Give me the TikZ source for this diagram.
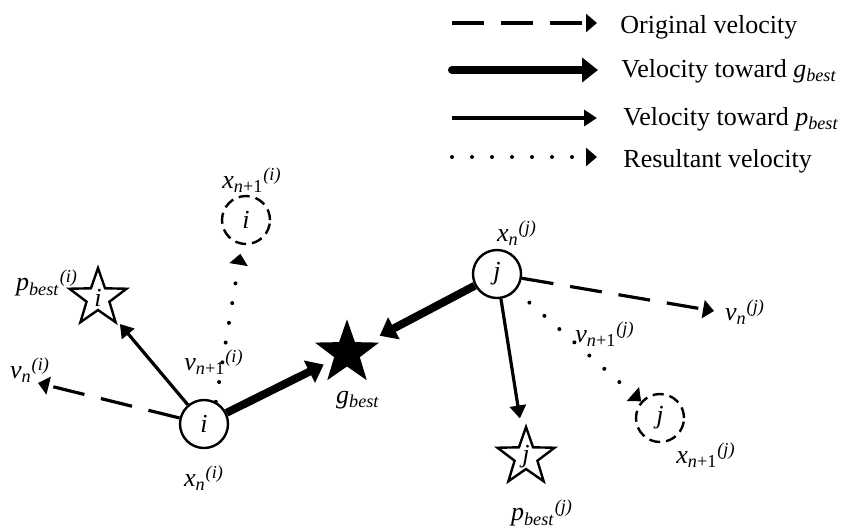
\documentclass[tikz,border=0pt]{standalone}
\usepackage{fontspec}
\setmainfont{Liberation Serif}
\usetikzlibrary{shapes.geometric,arrows.meta}
\newcommand{\lbl}[3]{\textit{#1}\textsubscript{#2}\textsuperscript{\textit{(#3)}}}
\begin{document}
\begin{tikzpicture}[x=0.5pt,y=-0.5pt,
  font=\fontsize{13}{15}\selectfont,
  particle/.style={circle,draw,line width=1.2pt,fill=white,minimum size=24pt,inner sep=0pt,font=\fontsize{13}{15}\selectfont\itshape},
  ghost/.style={particle,dash pattern=on 5.5pt off 3pt},
  ostar/.style={star,star points=5,star point ratio=2.5,draw,line width=1.2pt,fill=white,minimum size=30pt,inner sep=0pt,
    label={[font=\fontsize{13}{15}\selectfont\itshape,inner sep=0pt]center:#1}},
  fstar/.style={star,star points=5,star point ratio=2.5,draw,line width=1.2pt,fill=black,minimum size=30pt,inner sep=0pt},
  lab/.style={inner sep=0pt},
  vorig/.style={line width=1.6pt,dash pattern=on 16pt off 8.5pt,-{Triangle[length=5.5pt,width=9pt]}},
  vg/.style={line width=4pt,-{Triangle[length=8pt,width=12pt]}},
  vp/.style={line width=1.6pt,-{Triangle[length=6.5pt,width=8pt]}},
  vres/.style={line width=2pt,line cap=round,dash pattern=on 0pt off 10pt,-{Triangle[length=5.5pt,width=9pt]}},
]
\useasboundingbox (0,0) rectangle (849,531);

% particles and stars
\node[particle] (i) at (204,424) {i};
\node[ghost] (ni) at (246,220) {i};
\node[particle] (j) at (497,274) {j};
\node[ghost] (nj) at (660,418) {j};
\node[ostar=i] (pi) at (98,298) {};
\node[ostar=j] (pj) at (526,457) {};
\node[fstar] (g) at (347,353) {};

\coordinate (vi) at (38,383);
\coordinate (vj) at (714,311);

% connectors
\draw[vorig] (i) -- (vi);
\draw[vp,shorten >=17pt] (i) -- (pi.center);
\draw[vg,shorten >=13pt] (i) -- (g.center);
\draw[vres,shorten >=4.5pt] (i.62) -- (ni);
\draw[vg,shorten >=18.5pt] (j) -- (g.center);
\draw[vorig] (j) -- (vj);
\draw[vp,shorten >=19.5pt] (j) -- (pj.center);
\draw[vres,shorten <=9pt] (j) -- (nj);

% labels
\node[lab] (lxni) at (252,180) {\lbl{x}{\textit{n}+1}{i}};
\node[lab] (lpi) at (47,283) {\lbl{p}{\textit{best}}{i}};
\node[lab] (lvi) at (30,370) {\lbl{v}{\textit{n}}{i}};
\node[lab] (lvni) at (214,362) {\lbl{v}{\textit{n}+1}{i}};
\node[lab] (lxi) at (204,478) {\lbl{x}{\textit{n}}{i}};
\node[lab] (lg) at (358,400) {\textit{g}\textsubscript{\textit{best}}};
\node[lab] (lxj) at (517,233) {\lbl{x}{\textit{n}}{j}};
\node[lab] (lvj) at (745,312) {\lbl{v}{\textit{n}}{j}};
\node[lab] (lvnj) at (605,334) {\lbl{v}{\textit{n}+1}{j}};
\node[lab] (lxnj) at (706,455) {\lbl{x}{\textit{n}+1}{j}};
\node[lab] (lpj) at (542,513) {\lbl{p}{\textit{best}}{j}};

% legend
\coordinate (l1a) at (452,23);  \coordinate (l1b) at (597,23);
\coordinate (l2a) at (452,70);  \coordinate (l2b) at (598,70);
\coordinate (l3a) at (452,118); \coordinate (l3b) at (597,118);
\coordinate (l4a) at (452,157); \coordinate (l4b) at (597,157);
\draw[vorig] (l1a) -- (l1b);
\draw[vg,line cap=round] (l2a) -- (l2b);
\draw[vp] (l3a) -- (l3b);
\draw[vres] (l4a) -- (l4b);
\node[lab,anchor=base west] (t1) at (620,33) {Original velocity};
\node[lab,anchor=base west] (t2) at (621,77) {Velocity toward \textit{g}\textsubscript{\textit{best}}};
\node[lab,anchor=base west] (t3) at (623,125) {Velocity toward \textit{p}\textsubscript{\textit{best}}};
\node[lab,anchor=base west] (t4) at (623,167) {Resultant velocity};
\end{tikzpicture}
\end{document}
